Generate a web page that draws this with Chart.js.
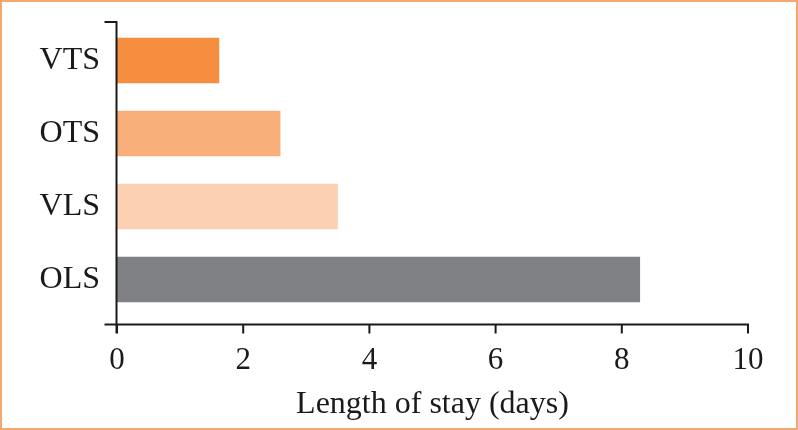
<!DOCTYPE html>
<html>
<head>
<meta charset="utf-8">
<script src="https://cdn.jsdelivr.net/npm/chart.js@4"></script>
<style>
  html, body { margin: 0; padding: 0; background: #fff; }
  #wrap { width: 798px; height: 430px; }
</style>
</head>
<body>
<div id="wrap"><canvas id="stayChart" width="798" height="430"></canvas></div>
<script>
// Data
const groups = ['VTS', 'OTS', 'VLS', 'OLS'];
const stayDays = [1.62, 2.59, 3.5, 8.29];
const xTicks = [0, 2, 4, 6, 8, 10];

// Styles
const barColors = ['#f68e40', '#f9af7a', '#fcd1b3', '#808184'];
const inkColor = '#1a1a1a';
const frameColor = '#f6a66f';
const serif = "'Liberation Serif', 'Times New Roman', serif";

// draws frame + GraphPad-style axes (lines sit a little outside the plot area)
const axesPlugin = {
    id: 'axesPlugin',
    beforeDraw(chart) {
        const ctx = chart.ctx;
        ctx.save();
        ctx.fillStyle = '#fff';
        ctx.fillRect(0, 0, chart.width, chart.height);
        ctx.strokeStyle = frameColor;
        ctx.lineWidth = 2;
        ctx.strokeRect(1, 1, chart.width - 2, chart.height - 2);
        ctx.restore();
    },
    afterDatasetsDraw(chart) {
        const ctx = chart.ctx;
        const area = chart.chartArea;
        const xs = chart.scales.x;
        const axisX = Math.round(area.left) - 0.5;
        const axisY = area.bottom + 8.5;
        const topY = area.top - 2;
        ctx.save();
        ctx.strokeStyle = inkColor;
        ctx.lineWidth = 2;
        ctx.beginPath();
        // y axis with end tick at top
        ctx.moveTo(axisX - 12, topY);
        ctx.lineTo(axisX, topY);
        ctx.lineTo(axisX, axisY + 9);
        // x axis
        ctx.moveTo(axisX - 12, axisY);
        ctx.lineTo(xs.getPixelForValue(xTicks[xTicks.length - 1]) + 1, axisY);
        xTicks.forEach(t => {
            const px = xs.getPixelForValue(t);
            ctx.moveTo(px, axisY);
            ctx.lineTo(px, axisY + 9);
        });
        ctx.stroke();
        ctx.restore();
    }
};

new Chart(document.getElementById('stayChart'), {
    type: 'bar',
    data: {
        labels: groups,
        datasets: [{
            data: stayDays,
            backgroundColor: barColors,
            borderWidth: 0,
            barPercentage: 0.62,
            categoryPercentage: 1.0
        }]
    },
    options: {
        indexAxis: 'y',
        responsive: false,
        animation: false,
        layout: { padding: { left: 0, right: 50, top: 24, bottom: 6 } },
        plugins: {
            legend: { display: false },
            tooltip: { enabled: false }
        },
        scales: {
            x: {
                min: 0,
                max: 10,
                afterBuildTicks(scale) {
                    scale.ticks = xTicks.map(v => ({ value: v }));
                },
                grid: { display: false, drawTicks: false },
                border: { display: false },
                ticks: {
                    color: inkColor,
                    font: { family: serif, size: 31 },
                    padding: 26,
                    maxRotation: 0
                },
                title: {
                    display: true,
                    text: 'Length of stay (days)',
                    color: inkColor,
                    font: { family: serif, size: 32 },
                    padding: { top: 2, bottom: 0 }
                },
                afterFit(scale) {
                    scale.height = 108;
                    scale.paddingLeft = 0;
                    scale.paddingRight = 0;
                }
            },
            y: {
                grid: { display: false, drawTicks: false },
                border: { display: false },
                ticks: {
                    color: inkColor,
                    font: { family: serif, size: 32 },
                    padding: 17
                },
                afterFit(scale) {
                    scale.width = 117;
                    scale.paddingTop = 0;
                    scale.paddingBottom = 0;
                }
            }
        }
    },
    plugins: [axesPlugin]
});
</script>
</body>
</html>
